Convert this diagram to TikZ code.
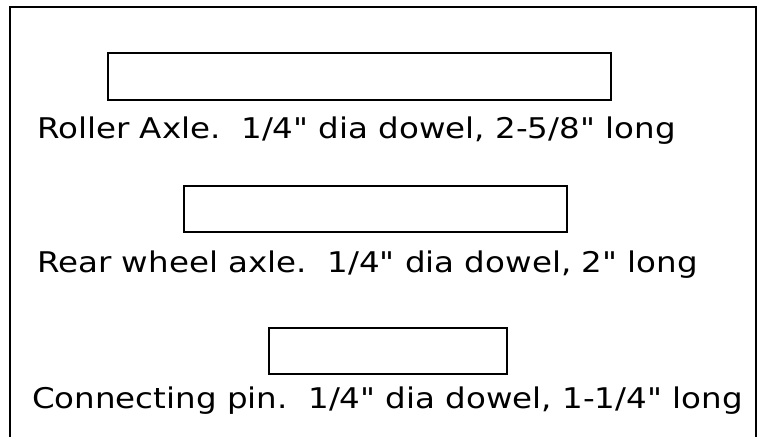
\documentclass[tikz,border=0pt]{standalone}
\usepackage{fontspec}
\newfontfamily\capfont{DejaVu Sans}[FakeStretch=1.14]
\tikzstyle{dowel}=[draw,line width=1.5pt,rectangle,inner sep=0pt]
\tikzstyle{caption}=[anchor=base west,inner sep=0pt,font=\capfont\fontsize{28.5}{34}\selectfont]
\newcommand{\dowel}[5]{% name, centre x, centre y, width, height
	\node[dowel,minimum width=#4,minimum height=#5] (#1) at (#2,#3) {};
}
\begin{document}
\begin{tikzpicture}[x=1pt,y=-1pt]
	\useasboundingbox (0,0) rectangle (765,437);
	% open frame, runs off the bottom edge
	\draw[line width=2pt] (10,437) -- (10,7) -- (756,7) -- (756,437);
	\dowel{roller}{359.5}{76.5}{503pt}{47pt}
	\dowel{rear}{375.5}{209}{383pt}{46pt}
	\dowel{pin}{388}{351}{238pt}{46pt}
	\node[caption] (rollertext) at (37,138) {Roller Axle.\ \ 1/4" dia dowel, 2-5/8" long};
	\node[caption] (reartext) at (37,272) {Rear wheel axle.\ \ 1/4" dia dowel, 2" long};
	\node[caption] (pintext) at (32,408) {Connecting pin.\ \ 1/4" dia dowel, 1-1/4" long};
\end{tikzpicture}
\end{document}
